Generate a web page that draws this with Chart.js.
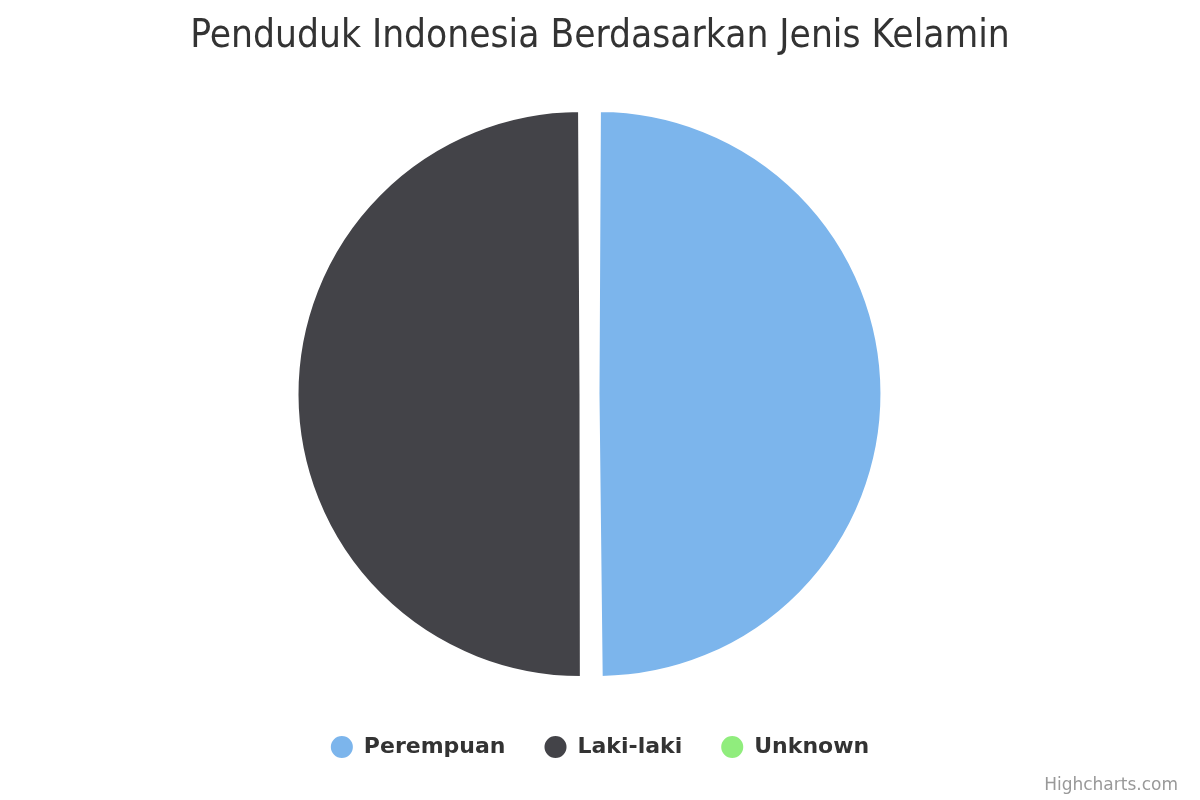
<!DOCTYPE html>
<html>
<head>
<meta charset="utf-8">
<title>Penduduk Indonesia Berdasarkan Jenis Kelamin</title>
<script src="https://cdn.jsdelivr.net/npm/chart.js@4/dist/chart.umd.min.js"></script>
<style>
  html, body { margin: 0; padding: 0; background: #fff; }
  #wrap { width: 1200px; height: 800px; }
</style>
</head>
<body>
<div id="wrap"><canvas id="myChart" width="1200" height="800"></canvas></div>
<script>
'use strict';
// data
var labels = ['Perempuan', 'Laki-laki', 'Unknown'];
var values = [49.9, 50.1, 0];
var colors = ['#7cb5ec', '#434348', '#90ed7d'];
var sliceOffsets = [36, 36, 0];
var chartTitle = 'Penduduk Indonesia Berdasarkan Jenis Kelamin';
var creditText = 'Highcharts.com';

// empty box on the right so the pie sits a bit left of the title centre
var rightGap = {
    id: 'rightGap',
    start: function (chart) {
        Chart.layouts.addBox(chart, {
            position: 'right', weight: 0, fullSize: false, options: {},
            left: 0, top: 0, right: 0, bottom: 0, width: 0, height: 0,
            isHorizontal: function () { return false; },
            update: function (maxWidth, maxHeight) { this.width = 21; this.height = maxHeight; },
            draw: function () {}
        });
    }
};

// credit text bottom right
var credit = {
    id: 'credit',
    afterDraw: function (chart) {
        var c = chart.ctx;
        c.save();
        c.font = '17px "DejaVu Sans", sans-serif';
        c.fillStyle = '#999999';
        c.textAlign = 'right';
        c.textBaseline = 'alphabetic';
        c.fillText(creditText, 1178, 790);
        c.restore();
    }
};

var ctx = document.getElementById('myChart').getContext('2d');
var myChart = new Chart(ctx, {
    type: 'pie',
    data: {
        labels: labels,
        datasets: [{
            data: values,
            backgroundColor: colors,
            borderColor: '#ffffff',
            borderWidth: 2,
            offset: sliceOffsets,
            hoverOffset: 0
        }]
    },
    plugins: [rightGap, credit],
    options: {
        responsive: false,
        animation: false,
        radius: 274,
        layout: { padding: { top: 0, bottom: 32, left: 0, right: 0 } },
        plugins: {
            title: {
                display: true,
                text: chartTitle,
                color: '#333333',
                font: { family: "'DejaVu Sans Condensed', 'DejaVu Sans', sans-serif", size: 38.5, weight: 'normal' },
                padding: { top: 14, bottom: 30.8 }
            },
            legend: {
                position: 'bottom',
                labels: {
                    color: '#333333',
                    font: { family: "'DejaVu Sans', sans-serif", size: 22, weight: 'bold' },
                    usePointStyle: true,
                    pointStyle: 'circle',
                    boxWidth: 24,
                    boxHeight: 17,
                    padding: 39
                }
            },
            tooltip: { enabled: false }
        }
    }
});
</script>
</body>
</html>
